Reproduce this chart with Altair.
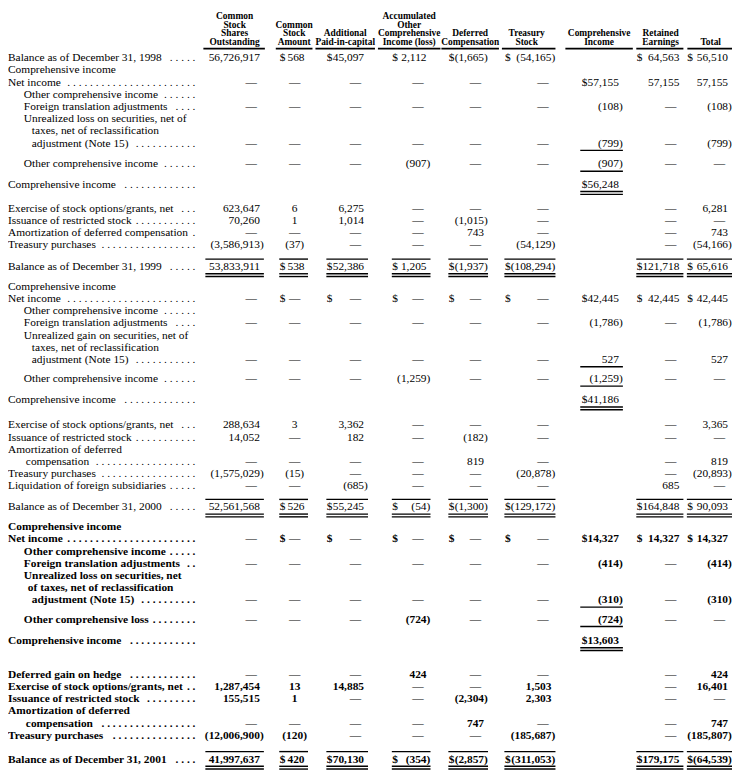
import altair as alt
import pandas as pd

# ---------------- data ----------------
_ = ""
d = "\u2014"
sd = "$ \u2014"

col_headers = [
    ["Common", "Stock", "Shares", "Outstanding"],
    ["Common", "Stock", "Amount"],
    ["Additional", "Paid-in-capital"],
    ["Accumulated", "Other", "Comprehensive", "Income (loss)"],
    ["Deferred", "Compensation"],
    ["Treasury", "Stock"],
    ["Comprehensive", "Income"],
    ["Retained", "Earnings"],
    ["Total"],
]

row_labels = [
    "Balance as of December 31, 1998", "Comprehensive income", "Net income",
    "Other comprehensive income", "Foreign translation adjustments",
    "Unrealized loss on securities, net of", "taxes, net of reclassification",
    "adjustment (Note 15)", "Other comprehensive income", "Comprehensive income",
    "Exercise of stock options/grants, net", "Issuance of restricted stock",
    "Amortization of deferred compensation", "Treasury purchases",
    "Balance as of December 31, 1999",
    "Comprehensive income", "Net income", "Other comprehensive income",
    "Foreign translation adjustments", "Unrealized gain on securities, net of",
    "taxes, net of reclassification", "adjustment (Note 15)",
    "Other comprehensive income", "Comprehensive income",
    "Exercise of stock options/grants, net", "Issuance of restricted stock",
    "Amortization of deferred", "compensation", "Treasury purchases",
    "Liquidation of foreign subsidiaries", "Balance as of December 31, 2000",
    "Comprehensive income", "Net income", "Other comprehensive income",
    "Foreign translation adjustments", "Unrealized loss on securities, net",
    "of taxes, net of reclassification", "adjustment (Note 15)",
    "Other comprehensive loss", "Comprehensive income", "Deferred gain on hedge",
    "Exercise of stock options/grants, net", "Issuance of restricted stock",
    "Amortization of deferred", "compensation", "Treasury purchases",
    "Balance as of December 31, 2001",
]
has_leader = [1, 0, 1, 1, 1, 0, 0, 1, 1, 1, 1, 1, 1, 1, 1,
              0, 1, 1, 1, 0, 0, 1, 1, 1, 1, 1, 0, 1, 1, 1, 1,
              0, 1, 1, 1, 0, 0, 1, 1, 1, 1, 1, 1, 0, 1, 1, 1]

shares = ["56,726,917", _, d, _, d, _, _, d, d, _, "623,647", "70,260", d, "(3,586,913)", "53,833,911",
          _, d, _, d, _, _, d, d, _, "288,634", "14,052", _, d, "(1,575,029)", d, "52,561,568",
          _, d, _, d, _, _, d, d, _, d, "1,287,454", "155,515", _, d, "(12,006,900)", "41,997,637"]
amount = ["$ 568", _, d, _, d, _, _, d, d, _, "6", "1", d, "(37)", "$ 538",
          _, sd, _, d, _, _, d, d, _, "3", d, _, d, "(15)", d, "$ 526",
          _, sd, _, d, _, _, d, d, _, d, "13", "1", _, d, "(120)", "$ 420"]
apic = ["$45,097", _, d, _, d, _, _, d, d, _, "6,275", "1,014", d, d, "$52,386",
        _, sd, _, d, _, _, d, d, _, "3,362", "182", _, d, d, "(685)", "$55,245",
        _, sd, _, d, _, _, d, d, _, d, "14,885", d, _, d, d, "$70,130"]
aoci = ["$ 2,112", _, d, _, d, _, _, d, "(907)", _, d, d, d, d, "$ 1,205",
        _, sd, _, d, _, _, d, "(1,259)", _, d, d, _, d, d, d, "$ (54)",
        _, sd, _, d, _, _, d, "(724)", _, "424", d, d, _, d, d, "$ (354)"]
deferred = ["$(1,665)", _, d, _, d, _, _, d, d, _, d, "(1,015)", "743", d, "$(1,937)",
            _, sd, _, d, _, _, d, d, _, d, "(182)", _, "819", d, d, "$(1,300)",
            _, sd, _, d, _, _, d, d, _, d, d, "(2,304)", _, "747", d, "$(2,857)"]
treasury = ["$ (54,165)", _, d, _, d, _, _, d, d, _, d, d, d, "(54,129)", "$(108,294)",
            _, sd, _, d, _, _, d, d, _, d, d, _, d, "(20,878)", d, "$(129,172)",
            _, sd, _, d, _, _, d, d, _, d, "1,503", "2,303", _, d, "(185,687)", "$(311,053)"]
comp_income = [_, _, "$57,155", _, "(108)", _, _, "(799)", "(907)", "$56,248", _, _, _, _, _,
               _, "$42,445", _, "(1,786)", _, _, "527", "(1,259)", "$41,186", _, _, _, _, _, _, _,
               _, "$14,327", _, "(414)", _, _, "(310)", "(724)", "$13,603", _, _, _, _, _, _, _]
retained = ["$ 64,563", _, "57,155", _, d, _, _, d, d, _, d, d, d, d, "$121,718",
            _, "$ 42,445", _, d, _, _, d, d, _, d, d, _, d, d, "685", "$164,848",
            _, "$ 14,327", _, d, _, _, d, d, _, d, d, d, _, d, d, "$179,175"]
total = ["$ 56,510", _, "57,155", _, "(108)", _, _, "(799)", d, _, "6,281", d, "743", "(54,166)", "$ 65,616",
         _, "$ 42,445", _, "(1,786)", _, _, "527", d, _, "3,365", d, _, "819", "(20,893)", d, "$ 90,093",
         _, "$ 14,327", _, "(414)", _, _, "(310)", d, _, "424", "16,401", d, _, "747", "(185,807)", "$(64,539)"]

value_columns = [shares, amount, apic, aoci, deferred, treasury, comp_income, retained, total]
N = len(row_labels)
for col in value_columns + [has_leader]:
    assert len(col) == N

# ---------------- layout (page-pixel geometry) ----------------
W, H = 730, 764
XDOM = [8, 8 + W]
YDOM = [8, 8 + H]
BODY = 11.5
HEAD = 9.5
PAREN = 0.333 * BODY
DOT_END = 197
PITCH = 12.3
GAPS = {"n": PITCH, "b": 21.0, "c": 20.5, "d": 24.0, "e": 22.0, "f": 20.0,
        "b2": 19.5, "c2": 21.0, "d2": 25.5, "e2": 21.0, "c3": 21.5, "g": 34.0, "e3": 24.0}
row_space = (["s"] + ["n"] * 7 + ["b", "c", "d"] + ["n"] * 3 + ["e"]
             + ["f"] + ["n"] * 6 + ["b2", "c2", "d2"] + ["n"] * 5 + ["e2"]
             + ["f"] + ["n"] * 6 + ["b2", "c3", "g"] + ["n"] * 5 + ["e3"])
row_indent = ([0, 0, 0, 1, 1, 1, 2, 2, 1, 0, 0, 0, 0, 0, 0]
              + [0, 0, 1, 1, 1, 2, 2, 1, 0, 0, 0, 0, 4, 0, 0, 0]
              + [0, 0, 1, 1, 1, 3, 2, 1, 0, 0, 0, 0, 0, 4, 0, 0])
row_bold = [0] * 31 + [1] * 16
INDENT = {0: 8, 1: 24, 2: 32, 3: 28, 4: 26}
Y0 = 55.5
HDR_BOTTOM = 39.5
HDR_PITCH = 9.0
HDR_RULE = 45.8
RULE_W = 1.4

# r: right edge of digits, d: x of "$", dc: centre for short values (None = right aligned)
COLS = [
    {"r": 262, "d": None, "dc": None, "ul": (205, 267), "hc": 236.5, "bl": (207, 266)},
    {"r": 307, "d": 282, "dc": 297, "ul": (278, 315), "hc": 296.5, "bl": (281.5, 310.5)},
    {"r": 367, "d": 329.5, "dc": None, "ul": (318, 378), "hc": 348, "bl": (329, 371)},
    {"r": 430, "d": 395.5, "dc": None, "ul": (381, 444), "hc": 412.5, "bl": (395, 434)},
    {"r": 488, "d": 452.5, "dc": None, "ul": (445, 503), "hc": 474, "bl": (452, 492)},
    {"r": 556, "d": 509, "dc": None, "ul": (506, 560), "hc": 531, "bl": (508.5, 560)},
    {"r": 624, "d": 586.5, "dc": None, "ul": (570, 638), "hc": 604, "bl": (585, 628)},
    {"r": 685, "d": 642, "dc": None, "ul": (641.5, 689), "hc": 666, "bl": (641.5, 689)},
    {"r": 734, "d": 692.8, "dc": None, "ul": (693, 738), "hc": 716.5, "bl": (692.5, 738)},
]
COMP = 6
DASH_INSET = 3.0
DASH_W = 1.0 * BODY

# Times metrics (1/1000 em) used only to fit the leader dots
_chars = " (),-./0123456789ABCDEFGHIJKLMNOPQRSTUVWXYZabcdefghijklmnopqrstuvwxyz"
_reg = ([250, 333, 333, 250, 333, 250, 278] + [500] * 10
        + [722, 667, 667, 722, 611, 556, 722, 722, 333, 389, 722, 611, 889, 722, 722, 556, 722, 667, 556, 611, 722, 722, 944, 722, 722, 611]
        + [444, 500, 444, 500, 444, 333, 500, 500, 278, 278, 500, 278, 778, 500, 500, 500, 500, 333, 389, 278, 500, 500, 722, 500, 500, 444])
_bld = ([250, 333, 333, 250, 333, 250, 278] + [500] * 10
        + [722, 667, 722, 722, 667, 611, 778, 778, 389, 500, 778, 667, 944, 722, 778, 611, 778, 722, 556, 667, 722, 722, 1000, 722, 722, 667]
        + [500, 556, 444, 556, 444, 333, 500, 556, 278, 333, 556, 278, 833, 556, 500, 556, 556, 444, 389, 333, 556, 500, 722, 500, 500, 444])
REG = dict(zip(_chars, _reg))
BLD = dict(zip(_chars, _bld))


def text_width(s, bold):
    m = BLD if bold else REG
    return sum(m.get(c, 500) for c in s) / 1000.0 * BODY


ys_ = []
y = Y0
for i, code in enumerate(row_space):
    if i > 0:
        y += GAPS[code]
    ys_.append(y)

# ---------------- build tables ----------------
recs = []
for i, lab in enumerate(row_labels):
    b = row_bold[i]
    x0 = INDENT[row_indent[i]]
    recs.append(dict(x=x0, y=ys_[i], t=lab, kind=f"lab{b}"))
    if has_leader[i]:
        w = text_width(lab, b)
        n = int(((DOT_END - x0 - w - 3) / (0.25 * BODY) + 1) // 2)
        if n > 0:
            recs.append(dict(x=DOT_END, y=ys_[i], t=" ".join(["."] * n), kind=f"num{b}"))
    for c, vals in enumerate(value_columns):
        v = vals[i].strip()
        if not v:
            continue
        cs = COLS[c]
        dollar = v.startswith("$")
        if dollar:
            recs.append(dict(x=cs["d"], y=ys_[i], t="$", kind=f"dol{b}"))
            v = v[1:].strip()
        if v == d:
            xc = cs["dc"] if cs["dc"] is not None else cs["r"] - DASH_INSET - DASH_W / 2
            recs.append(dict(x=xc, y=ys_[i], t=v, kind=f"ctr{b}"))
            continue
        if cs["dc"] is not None and not dollar:
            recs.append(dict(x=cs["dc"], y=ys_[i], t=v, kind=f"ctr{b}"))
            continue
        xr = cs["r"] + (PAREN if v.endswith(")") else 0)
        recs.append(dict(x=xr, y=ys_[i], t=v, kind=f"num{b}"))

for c, lines in enumerate(col_headers):
    nl = len(lines)
    for k, line in enumerate(lines):
        recs.append(dict(x=COLS[c]["hc"], y=HDR_BOTTOM - HDR_PITCH * (nl - 1 - k), t=line, kind="hdr"))

tdf = pd.DataFrame(recs)

rules = []


def add_rule(x1, x2, yy, w=RULE_W):
    rules.append(dict(x=x1, x2=x2, y=yy - w / 2, y2=yy + w / 2))


for c in range(9):
    add_rule(COLS[c]["ul"][0], COLS[c]["ul"][1], HDR_RULE, 1.8)
for i, lab in enumerate(row_labels):
    if lab.startswith("Comprehensive income") and comp_income[i].startswith("$"):
        x1, x2 = COLS[COMP]["bl"]
        for j in (i - 1, i - 2):
            add_rule(x1, x2, ys_[j] + 6.8)
        add_rule(x1, x2, ys_[i] + 6.8)
        add_rule(x1, x2, ys_[i] + 9.6)
    if lab.startswith("Balance") and i > 0:
        for c in range(9):
            if c == COMP:
                continue
            x1, x2 = COLS[c]["bl"]
            add_rule(x1, x2, ys_[i] - 8.0)
            add_rule(x1, x2, ys_[i] + 6.8)
            add_rule(x1, x2, ys_[i] + 9.6)
rdf = pd.DataFrame(rules)

xs = alt.Scale(domain=XDOM, range=[0, W], nice=False, zero=False)
ysc = alt.Scale(domain=YDOM, range=[0, H], nice=False, zero=False)
FONT = "Liberation Serif"


def text_layer(kind, align, bold, size):
    sub = tdf[tdf["kind"] == kind]
    return alt.Chart(sub).mark_text(
        align=align, baseline="middle", font=FONT, fontSize=size,
        fontWeight="bold" if bold else "normal", color="black",
    ).encode(
        x=alt.X("x:Q", scale=xs, axis=None),
        y=alt.Y("y:Q", scale=ysc, axis=None),
        text="t:N",
    )


layers = [
    alt.Chart(rdf).mark_rect(color="black").encode(
        x=alt.X("x:Q", scale=xs, axis=None),
        x2="x2:Q",
        y=alt.Y("y:Q", scale=ysc, axis=None),
        y2="y2:Q",
    ),
    text_layer("hdr", "center", True, HEAD),
    text_layer("lab0", "left", False, BODY),
    text_layer("lab1", "left", True, BODY),
    text_layer("num0", "right", False, BODY),
    text_layer("num1", "right", True, BODY),
    text_layer("ctr0", "center", False, BODY),
    text_layer("ctr1", "center", True, BODY),
    text_layer("dol0", "left", False, BODY),
    text_layer("dol1", "left", True, BODY),
]

chart = alt.layer(*layers).properties(
    width=W, height=H, padding=0, autosize=alt.AutoSizeParams(type="none")
).configure_view(stroke=None)

chart.save("out.html", embed_options={"renderer": "svg", "actions": False})
